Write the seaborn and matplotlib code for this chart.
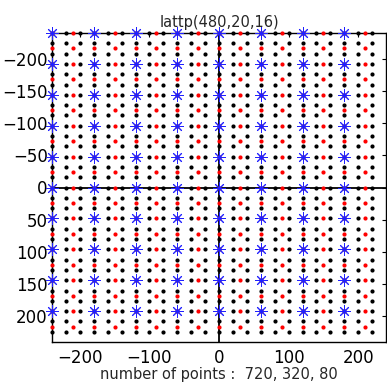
import numpy as np
import pandas as pd
import matplotlib
matplotlib.use("Agg")
import matplotlib.pyplot as plt
import seaborn as sns

# lattice coordinates (3 nested lattices)
black_x = [-240, -220, -200, -180, -160, -140, -120, -100, -80, -60, -40, -20,
           0, 20, 40, 60, 80, 100, 120, 140, 160, 180, 200, 220]
black_y = [-240, -224, -208, -192, -176, -160, -144, -128, -112, -96, -80, -64,
           -48, -32, -16, 0, 16, 32, 48, 64, 80, 96, 112, 128, 144, 160, 176,
           192, 208, 224]
red_x = [-240, -210, -180, -150, -120, -90, -60, -30, 0, 30, 60, 90, 120, 150,
         180, 210]
red_y = [-240, -216, -192, -168, -144, -120, -96, -72, -48, -24, 0, 24, 48, 72,
         96, 120, 144, 168, 192, 216]
star_x = [-240, -180, -120, -60, 0, 60, 120, 180]
star_y = [-240, -192, -144, -96, -48, 0, 48, 96, 144, 192]

title = "lattp(480,20,16)"
xticks = [-200, -100, 0, 100, 200]
yticks = [-200, -150, -100, -50, 0, 50, 100, 150, 200]


def grid_frame(xs, ys):
    gx, gy = np.meshgrid(xs, ys)
    return pd.DataFrame({"x": gx.ravel(), "y": gy.ravel()})


black = grid_frame(black_x, black_y)
red = grid_frame(red_x, red_y)
stars = grid_frame(star_x, star_y)

sns.set_style("white")
plt.rcParams["font.family"] = ["DejaVu Sans"]
plt.rcParams["xtick.direction"] = "in"
plt.rcParams["ytick.direction"] = "in"

fig = plt.figure(figsize=(3.87, 3.83), dpi=100)
ax = fig.add_axes([52 / 387, 41 / 383, 334 / 387, 309 / 383])

ax.axhline(0, color="black", lw=1.3, zorder=1)
ax.axvline(0, color="black", lw=1.3, zorder=1)

sns.scatterplot(data=black, x="x", y="y", ax=ax, color="black", s=9,
                linewidth=0, zorder=2, legend=False, clip_on=False)
sns.scatterplot(data=red, x="x", y="y", ax=ax, color="red", s=9,
                linewidth=0, zorder=3, legend=False, clip_on=False)
sns.scatterplot(data=stars, x="x", y="y", ax=ax, color="#2020ff", s=70,
                marker=(8, 2, 0), linewidth=0.7, edgecolor="#2020ff", zorder=4,
                legend=False, clip_on=False)

ax.set_xlim(-240, 240)
ax.set_ylim(240, -240)
ax.set_xticks(xticks)
ax.set_yticks(yticks)
ax.set_xticklabels([str(t).replace("-", "\u2212") for t in xticks])
ax.set_yticklabels([str(t).replace("-", "\u2212") for t in yticks])
ax.tick_params(axis="both", labelsize=12, length=3, width=0.8,
               top=True, right=True, colors="black")
ax.tick_params(axis="x", pad=5)
ax.tick_params(axis="y", pad=3)
for sp in ax.spines.values():
    sp.set_color("black")
    sp.set_linewidth(1.0)

ax.set_title(title, fontsize=10.5, pad=4)
ax.set_xlabel("number of points :  720, 320, 80", fontsize=10.5, labelpad=0)
ax.set_ylabel("")

fig.savefig("out.png", dpi=100)
